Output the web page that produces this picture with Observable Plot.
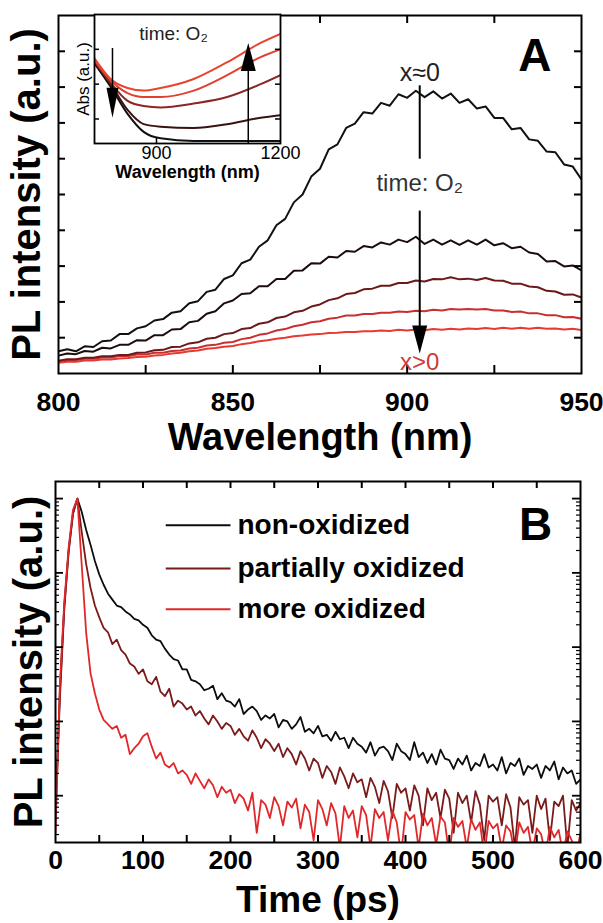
<!DOCTYPE html>
<html><head><meta charset="utf-8">
<script src="https://cdn.jsdelivr.net/npm/d3@7"></script>
<script src="https://cdn.jsdelivr.net/npm/@observablehq/plot@0.6"></script>
<style>
body{margin:0;background:#fff;}
#fig{position:relative;width:603px;height:923px;overflow:hidden;background:#fff;}
#fig svg{position:absolute;}
</style></head><body><div id="fig"></div>
<script>
// ---------------- DATA ----------------
// Panel A: PL spectra (x = wavelength nm, y = PL intensity a.u.)
const wavelengthA = [800,802.5,805,807.5,810,812.5,815,817.5,820,822.5,825,827.5,830,832.5,835,837.5,840,842.5,845,847.5,850,852.5,855,857.5,860,862.5,865,867.5,870,872.5,875,877.5,880,882.5,885,887.5,890,892.5,895,897.5,900,902.5,905,907.5,910,912.5,915,917.5,920,922.5,925,927.5,930,932.5,935,937.5,940,942.5,945,947.5,950];
const plT0 = [0.62,0.68,0.62,0.76,0.74,0.90,0.92,1.10,1.10,1.26,1.32,1.48,1.52,1.70,1.74,1.96,2.02,2.28,2.34,2.64,2.74,3.08,3.18,3.54,3.72,4.14,4.32,4.78,5.00,5.50,5.72,6.26,6.40,6.86,6.98,7.30,7.26,7.56,7.48,7.80,7.70,7.90,7.72,7.88,7.68,7.82,7.56,7.66,7.40,7.46,7.14,7.14,6.82,6.86,6.54,6.50,6.20,6.18,5.84,5.78,5.42];
const plT1 = [0.50,0.56,0.54,0.63,0.61,0.72,0.70,0.80,0.80,0.93,0.92,1.07,1.07,1.23,1.24,1.43,1.47,1.67,1.74,1.96,2.04,2.22,2.24,2.44,2.44,2.64,2.64,2.87,2.88,3.08,3.07,3.26,3.24,3.42,3.40,3.56,3.52,3.66,3.60,3.74,3.67,3.82,3.62,3.74,3.60,3.72,3.59,3.72,3.60,3.74,3.58,3.64,3.50,3.54,3.38,3.34,3.13,3.14,2.99,3.02,2.88];
const plT2 = [0.36,0.40,0.40,0.44,0.44,0.48,0.48,0.52,0.52,0.58,0.59,0.65,0.66,0.74,0.75,0.84,0.87,0.97,1.00,1.10,1.13,1.24,1.27,1.39,1.43,1.55,1.59,1.71,1.75,1.87,1.93,2.05,2.10,2.22,2.25,2.35,2.37,2.45,2.45,2.53,2.53,2.60,2.57,2.64,2.63,2.69,2.63,2.65,2.61,2.67,2.60,2.59,2.51,2.51,2.43,2.41,2.31,2.29,2.20,2.21,2.12];
const plT3 = [0.34,0.37,0.38,0.41,0.41,0.45,0.45,0.49,0.49,0.53,0.53,0.58,0.58,0.63,0.64,0.70,0.72,0.78,0.80,0.86,0.88,0.96,1.00,1.08,1.12,1.20,1.24,1.32,1.36,1.43,1.46,1.53,1.56,1.62,1.62,1.66,1.66,1.70,1.70,1.73,1.72,1.75,1.74,1.78,1.76,1.80,1.79,1.80,1.79,1.80,1.76,1.76,1.72,1.73,1.68,1.68,1.63,1.63,1.57,1.58,1.53];
const plT4 = [0.30,0.33,0.33,0.36,0.36,0.39,0.39,0.42,0.43,0.46,0.47,0.50,0.52,0.56,0.58,0.62,0.64,0.69,0.71,0.75,0.77,0.82,0.85,0.90,0.93,0.97,1.00,1.04,1.06,1.09,1.10,1.13,1.14,1.16,1.16,1.18,1.18,1.20,1.19,1.22,1.20,1.23,1.21,1.24,1.22,1.25,1.23,1.26,1.24,1.27,1.24,1.28,1.25,1.28,1.25,1.28,1.25,1.26,1.23,1.25,1.21];
const xTicksA = [825,850,875,900,925];
const xLabelsA = [800,850,900,950];
const yTicksA = [1,2,3,4,5,6,7,8,9];

// Inset: absorbance
const wavelengthInset = [750,789,830,869,910,990,1071,1152,1200];
const absT4 = [0.66,0.50,0.43,0.41,0.43,0.50,0.63,0.78,0.85];
const absT3 = [0.65,0.49,0.39,0.36,0.36,0.41,0.53,0.67,0.73];
const absT2 = [0.64,0.47,0.33,0.29,0.28,0.31,0.36,0.46,0.53];
const absT1 = [0.63,0.46,0.26,0.15,0.13,0.12,0.15,0.20,0.22];
const absT0 = [0.62,0.44,0.23,0.09,0.04,0.02,0.02,0.02,0.02];
const xLabelsInset = [900,1200];

// Panel B: PL decay (x = time ps, y = log10 of normalized PL intensity)
const timeB = [0,5,10,15,20,25,30,35,40,45,50,55,60,65,70,75,80,85,90,95,100,105,110,115,120,125,130,135,140,145,150,155,160,165,170,175,180,185,190,195,200,205,210,215,220,225,230,235,240,245,250,255,260,265,270,275,280,285,290,295,300,305,310,315,320,325,330,335,340,345,350,355,360,365,370,375,380,385,390,395,400,405,410,415,420,425,430,435,440,445,450,455,460,465,470,475,480,485,490,495,500,505,510,515,520,525,530,535,540,545,550,555,560,565,570,575,580,585,590,595,600];
const logNonOx = [-4.2,-2.6,-1.45,-0.7,-0.2,0,-0.18,-0.42,-0.62,-0.84,-1.02,-1.16,-1.28,-1.36,-1.44,-1.46,-1.52,-1.56,-1.62,-1.64,-1.7,-1.74,-1.84,-1.9,-1.92,-2.02,-2.1,-2.16,-2.18,-2.3,
-2.3,-2.44,-2.46,-2.5,-2.58,-2.56,-2.52,-2.7,-2.62,-2.72,-2.74,-2.8,-2.7,-2.9,-2.84,-2.8,-2.86,-2.98,-2.92,-2.96,-2.9,-3.08,-2.98,-3.0,-3.1,-3.04,-2.94,-3.14,-3.1,-3.16,-3.06,-3.2,-3.18,-3.26,-3.14,-3.24,-3.22,-3.36,-3.22,-3.3,-3.34,-3.42,-3.28,-3.46,-3.36,-3.34,-3.4,-3.52,-3.3,-3.4,-3.44,-3.52,-3.28,-3.48,-3.42,-3.56,-3.44,-3.58,-3.38,-3.5,-3.52,-3.64,-3.5,-3.58,-3.46,-3.66,-3.56,-3.6,-3.44,-3.62,-3.58,-3.66,-3.48,-3.7,-3.56,-3.6,-3.5,-3.72,-3.6,-3.64,-3.58,-3.76,-3.6,-3.66,-3.54,-3.78,-3.62,-3.7,-3.66,-3.84,-3.78];
const logPartOx = [-4.3,-2.7,-1.5,-0.72,-0.2,0,-0.45,-0.88,-1.2,-1.44,-1.6,-1.74,-1.8,-1.96,-1.9,-2.04,-2.1,-2.22,-2.26,-2.36,
-2.3,-2.46,-2.5,-2.4,-2.6,-2.66,-2.56,-2.8,-2.72,-2.76,-2.84,-2.8,-2.92,-2.86,-2.96,-3.04,-2.92,-3.0,-3.1,-3.02,-3.06,-3.18,-3.1,-3.2,-3.26,-3.12,-3.22,-3.36,-3.24,-3.3,-3.4,-3.3,-3.48,-3.36,-3.44,-3.58,-3.4,-3.5,-3.66,-3.5,-3.56,-3.76,-3.6,-3.68,-3.84,-3.62,-3.74,-3.9,-3.7,-3.82,-3.78,-4.02,-3.76,-3.88,-4.1,-3.8,-3.94,-4.3,-3.84,-3.96,-3.9,-4.2,-3.86,-4.0,-4.4,-3.9,-4.06,-3.96,-4.3,-3.92,-4.04,-4.5,-3.96,-4.1,-4.0,-4.36,-3.94,-4.12,-4.6,-4.0,-4.08,-4.02,-4.4,-3.98,-4.16,-4.7,-4.02,-4.12,-4.06,-4.5,-4.0,-4.18,-4.04,-4.6,-4.08,-4.14,-4.0,-4.7,-4.06,-4.2,-4.1];
const logMoreOx = [-4.5,-2.5,-1.4,-0.66,-0.15,0,-0.9,-1.8,-2.35,-2.62,-2.84,-2.98,-3.04,-3.1,-3.06,-3.22,-3.18,-3.44,-3.36,-3.3,
-3.2,-3.16,-3.34,-3.5,-3.42,-3.58,-3.62,-3.56,-3.7,-3.66,-3.72,-3.84,-3.7,-3.8,-3.9,-3.78,-3.86,-4.02,-3.88,-3.96,
-3.92,-4.1,-3.98,-4.04,-4.2,-3.96,-4.5,-4.06,-4.12,-4.3,-4.02,-4.14,-4.4,-4.08,-4.16,-4.04,-4.44,-4.12,-4.22,-4.6,-4.06,-4.18,-4.4,-4.1,-4.24,-4.7,-4.14,-4.3,-4.2,-4.56,-4.14,-4.26,-4.7,-4.18,-4.3,-4.22,-4.6,-4.2,-4.36,-4.8,-4.22,-4.32,-4.26,-4.7,-4.24,-4.4,-4.3,-4.66,-4.28,-4.36,-4.8,-4.3,-4.42,-4.34,-4.7,-4.32,-4.46,-4.36,-4.8,-4.34,-4.44,-4.38,-4.72,-4.4,-4.48,-4.8,-4.36,-4.5,-4.42,-4.76,-4.44,-4.52,-4.8,-4.42,-4.56,-4.46,-4.78,-4.48,-4.6,-4.8,-4.5];
const legendB = ["non-oxidized","partially oxidized","more oxidized"];
const xTicksB = [50,100,150,200,250,300,350,400,450,500,550];
const xLabelsB = [0,100,200,300,400,500,600];

// ---------------- STYLE / LAYOUT ----------------
const font = '"Liberation Sans", Arial, Helvetica, sans-serif';
const colorsA = ["#111111","#1c0c0c","#6a1a1a","#c83030","#e63a32"];
const colorsInset = ["#111111","#3a1212","#8a2626","#e0402f","#e8452f"];
const colorsB = ["#0d0d0d","#7a1a1a","#e0282a"];
const fig = document.getElementById("fig");
const rows = (xs, ys) => xs.map((x, i) => ({x, y: ys[i]}));
function place(svg, left, top) { svg.style.left = left + "px"; svg.style.top = top + "px"; fig.appendChild(svg); }
const headDown = (w, h) => ({draw(c) { c.moveTo(-w / 2, -h); c.lineTo(w / 2, -h); c.lineTo(0, 0); c.closePath(); }});
const headUp = (w, h) => ({draw(c) { c.moveTo(-w / 2, h); c.lineTo(w / 2, h); c.lineTo(0, 0); c.closePath(); }});
const centered = {textAnchor: "middle", lineAnchor: "middle"};

// ---------------- PANEL A ----------------
const A = {w: 603, h: 470, ml: 58, mr: 22, mt: 15, mb: 97};
const aPW = A.w - A.ml - A.mr, aPH = A.h - A.mt - A.mb;
const seriesA = [plT4, plT3, plT2, plT1, plT0];
const seriesAColors = [colorsA[4], colorsA[3], colorsA[2], colorsA[1], colorsA[0]];
const arrowXA = 903.6;
const plotA = Plot.plot({
  width: A.w, height: A.h, marginLeft: A.ml, marginRight: A.mr, marginTop: A.mt, marginBottom: A.mb,
  style: {fontFamily: font, background: "transparent", overflow: "visible", color: "#000"},
  x: {domain: [800, 950], axis: null},
  y: {domain: [0, 10], axis: null},
  marks: [
    ...seriesA.map((s, k) => Plot.line(rows(wavelengthA, s), {x: "x", y: "y", stroke: seriesAColors[k], strokeWidth: 2, clip: true})),
    Plot.tickX(xTicksA, {x: d => d, insetTop: aPH - 8, strokeWidth: 2}),
    Plot.tickX(xTicksA, {x: d => d, insetBottom: aPH - 8, strokeWidth: 2}),
    Plot.tickY(yTicksA, {y: d => d, insetRight: aPW - 7, strokeWidth: 2}),
    Plot.tickY(yTicksA, {y: d => d, insetLeft: aPW - 7, strokeWidth: 2}),
    Plot.frame({strokeWidth: 2}),
    Plot.axisX({ticks: xLabelsA, label: null, tickSize: 0, tickPadding: 19, fontSize: 26.5, fontWeight: "bold"}),
    Plot.text(["Wavelength (nm)"], {text: d => d, frameAnchor: "bottom", dy: 64, fontSize: 38, fontWeight: "bold", ...centered}),
    Plot.text(["PL intensity (a.u.)"], {text: d => d, frameAnchor: "left", dx: -31, rotate: -90, fontSize: 40, fontWeight: "bold", ...centered}),
    // annotations
    Plot.link([0], {x1: arrowXA, x2: arrowXA, y1: 8.05, y2: 6.0, strokeWidth: 2}),
    Plot.link([0], {x1: arrowXA, x2: arrowXA, y1: 4.55, y2: 1.2, strokeWidth: 2}),
    Plot.dot([0], {x: arrowXA, y: 0.56, symbol: headDown(15, 28), fill: "#000", stroke: "none"}),
    Plot.text(["x≈0"], {text: d => d, x: arrowXA, y: 8.4, fontSize: 25, fill: "#222"}),
    Plot.text(["time: O₂"], {text: d => d, x: arrowXA, y: 5.3, fontSize: 24, fill: "#333"}),
    Plot.text(["x>0"], {text: d => d, x: arrowXA, y: 0.3, fontSize: 24, fill: "#d23a3a"}),
    Plot.text(["A"], {text: d => d, x: 936.6, y: 8.85, fontSize: 46, fontWeight: "bold"})
  ]
});
place(plotA, 0, 0);

// ---------------- INSET ----------------
const I = {w: 300, h: 190, ml: 94, mr: 20, mt: 14, mb: 47};
const iPW = I.w - I.ml - I.mr, iPH = I.h - I.mt - I.mb;
const seriesI = [absT0, absT1, absT2, absT3, absT4];
const plotI = Plot.plot({
  width: I.w, height: I.h, marginLeft: I.ml, marginRight: I.mr, marginTop: I.mt, marginBottom: I.mb,
  style: {fontFamily: font, background: "transparent", overflow: "visible", color: "#000"},
  x: {domain: [750, 1200], axis: null},
  y: {domain: [0, 1], axis: null},
  marks: [
    Plot.frame({fill: "white", stroke: "none"}),
    ...seriesI.map((s, k) => Plot.line(rows(wavelengthInset, s), {x: "x", y: "y", stroke: colorsInset[k], strokeWidth: 2, curve: "monotone-x", clip: true})),
    Plot.tickY([0.19, 0.46, 0.73], {y: d => d, insetRight: iPW - 5, strokeWidth: 1.5}),
    Plot.tickY([0.19, 0.46, 0.73], {y: d => d, insetLeft: iPW - 5, strokeWidth: 1.5}),
    Plot.tickX([900], {x: d => d, insetTop: iPH - 5, strokeWidth: 1.5}),
    Plot.frame({strokeWidth: 1.8}),
    Plot.axisX({ticks: xLabelsInset, label: null, tickFormat: d => String(d), tickSize: 0, tickPadding: 3, fontSize: 18}),
    Plot.text(["Wavelength (nm)"], {text: d => d, frameAnchor: "bottom", dy: 29, fontSize: 18, fontWeight: "bold", ...centered}),
    Plot.text(["Abs (a.u.)"], {text: d => d, frameAnchor: "left", dx: -11, rotate: -90, fontSize: 17, ...centered}),
    Plot.text(["time: O₂"], {text: d => d, x: 941, y: 0.85, fontSize: 19, fill: "#222"}),
    Plot.link([0], {x1: 793.5, x2: 793.5, y1: 0.74, y2: 0.4, strokeWidth: 1.5}),
    Plot.dot([0], {x: 793.5, y: 0.2, symbol: headDown(12, 30), fill: "#000", stroke: "none"}),
    Plot.link([0], {x1: 1122, x2: 1122, y1: 0, y2: 0.6, strokeWidth: 1.5}),
    Plot.dot([0], {x: 1122, y: 0.78, symbol: headUp(15, 28), fill: "#000", stroke: "none"})
  ]
});
place(plotI, 0, 0);

// ---------------- PANEL B ----------------
const B = {w: 603, h: 453, top: 470, ml: 55, mr: 23, mt: 11, mb: 81};
const bPW = B.w - B.ml - B.mr, bPH = B.h - B.mt - B.mb;
const yMinB = 10 ** -4.63, yMaxB = 10 ** 0.23;
const majorB = [1, 0.1, 0.01, 0.001, 0.0001];
const minorB = [0, -1, -2, -3, -4, -5].flatMap(n => [2,3,4,5,6,7,8,9].map(k => k * 10 ** n)).filter(v => v > yMinB && v < yMaxB);
const seriesB = [logNonOx, logPartOx, logMoreOx];
const legendY = [10 ** -0.36, 10 ** -0.94, 10 ** -1.49];
const plotB = Plot.plot({
  width: B.w, height: B.h, marginLeft: B.ml, marginRight: B.mr, marginTop: B.mt, marginBottom: B.mb,
  style: {fontFamily: font, background: "transparent", overflow: "visible", color: "#000"},
  x: {domain: [0, 600], axis: null},
  y: {type: "log", domain: [yMinB, yMaxB], axis: null},
  marks: [
    ...seriesB.map((s, k) => Plot.line(rows(timeB, s), {x: "x", y: d => 10 ** d.y, stroke: colorsB[k], strokeWidth: 1.8, clip: true})),
    Plot.tickX(xTicksB, {x: d => d, insetTop: bPH - 7, strokeWidth: 2}),
    Plot.tickX(xTicksB, {x: d => d, insetBottom: bPH - 7, strokeWidth: 2}),
    Plot.tickY(majorB, {y: d => d, insetRight: bPW - 8, strokeWidth: 1.8}),
    Plot.tickY(majorB, {y: d => d, insetLeft: bPW - 8, strokeWidth: 1.8}),
    Plot.tickY(minorB, {y: d => d, insetRight: bPW - 4, strokeWidth: 1.2}),
    Plot.tickY(minorB, {y: d => d, insetLeft: bPW - 4, strokeWidth: 1.2}),
    Plot.frame({strokeWidth: 2}),
    Plot.axisX({ticks: xLabelsB, label: null, tickSize: 0, tickPadding: 8, fontSize: 26.5, fontWeight: "bold"}),
    Plot.text(["Time (ps)"], {text: d => d, frameAnchor: "bottom", dy: 58, fontSize: 37, fontWeight: "bold", ...centered}),
    Plot.text(["PL intensity (a.u.)"], {text: d => d, frameAnchor: "left", dx: -26, rotate: -90, fontSize: 40, fontWeight: "bold", ...centered}),
    Plot.link(legendB, {x1: 126, x2: 200, y1: (d, i) => legendY[i], y2: (d, i) => legendY[i], stroke: (d, i) => colorsB[i], strokeWidth: 2}),
    Plot.text(legendB, {text: d => d, x: 208, y: (d, i) => legendY[i], textAnchor: "start", fontSize: 28, fontWeight: "bold"}),
    Plot.text(["B"], {text: d => d, x: 548.6, y: 10 ** -0.36, fontSize: 46, fontWeight: "bold"})
  ]
});
place(plotB, 0, B.top);
</script>
</body></html>
